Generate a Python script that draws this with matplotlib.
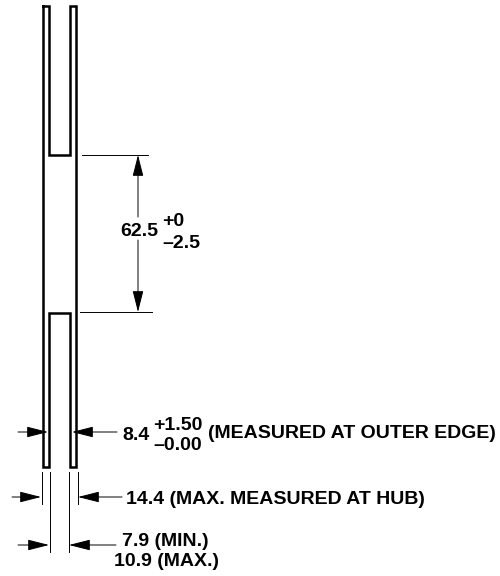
import matplotlib
matplotlib.use("Agg")
import matplotlib.pyplot as plt

plt.rcParams['font.family'] = ['Liberation Sans', 'DejaVu Sans']

# outline of the part, in picture pixels
left_x = [43, 43, 49, 49, 70, 70, 76, 76, 70, 70, 49, 49, 43]
left_y = [6, 467, 467, 313, 313, 467, 467, 6, 6, 155, 155, 6, 6]

# extension lines: x0, x1, y0, y1
ext_h = [(82, 148, 155, 155), (80, 152, 312, 312)]
ext_v = [(41.5, 41.5, 472, 504), (49.5, 49.5, 472, 552),
         (69, 69, 472, 552), (77.5, 77.5, 472, 504)]

# arrows: tail x, tail y, tip x, tip y
arrows = [(138, 217, 138, 155), (138, 240, 138, 312),
          (18, 432, 48, 432), (117, 432, 72, 432),
          (12, 497, 41, 497), (122, 497, 78, 497),
          (18, 545, 49, 545), (116, 545, 69, 545)]

# text: x, y, label
labels = [(120, 232, "62.5"), (162, 222, "+0"), (162, 243, "\u20132.5"),
          (122, 435, "8.4"), (153, 425, "+1.50"), (153, 446, "\u20130.00"),
          (208, 434, "(MEASURED AT OUTER EDGE)"),
          (126, 499, "14.4 (MAX. MEASURED AT HUB)"),
          (122, 541, "7.9 (MIN.)"), (114, 562, "10.9 (MAX.)")]

fig = plt.figure(figsize=(5, 5.76), dpi=100)
ax = fig.add_axes([0, 0, 1, 1])
ax.set_xlim(0, 500)
ax.set_ylim(576, 0)
ax.axis('off')

ax.plot(left_x, left_y, color='black', lw=1.8, solid_joinstyle='miter')

for x0, x1, y0, y1 in ext_h + ext_v:
    ax.plot([x0, x1], [y0, y1], color='black', lw=0.7)

for x0, y0, x1, y1 in arrows:
    ax.annotate('', xy=(x1, y1), xytext=(x0, y0),
                arrowprops=dict(arrowstyle='-|>,head_length=1.1,head_width=0.28',
                                color='black', lw=0.7, shrinkA=0, shrinkB=0,
                                mutation_scale=12))

for x, y, s in labels:
    ax.text(x, y, s, fontsize=14, fontweight='bold', ha='left', va='center')

fig.savefig('out.png', dpi=100)
